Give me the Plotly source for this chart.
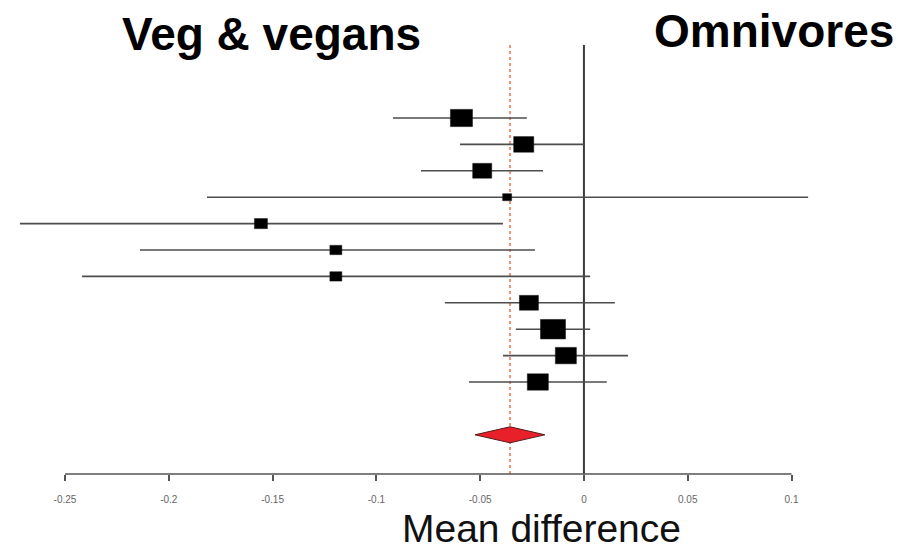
import plotly.graph_objects as go

# Study-level mean differences (veg & vegans minus omnivores) with 95% CIs
study_mean = [-0.059, -0.029, -0.049, -0.037, -0.1556, -0.1195, -0.1195,
              -0.0265, -0.0149, -0.0087, -0.0222]
ci_low = [-0.092, -0.0597, -0.0785, -0.1816, -0.2717, -0.2139, -0.2418,
          -0.067, -0.0328, -0.039, -0.0554]
ci_high = [-0.0275, 0.0, -0.0197, 0.108, -0.039, -0.0236, 0.003,
           0.0149, 0.003, 0.0212, 0.011]
weight_pct = [13.3, 11.0, 9.9, 2.2, 4.6, 3.9, 3.9, 9.9, 17.1, 12.1, 12.1]

# Pooled estimate
pooled_mean = -0.0356
pooled_low = -0.0525
pooled_high = -0.0188

tick_vals = [-0.25, -0.2, -0.15, -0.1, -0.05, 0, 0.05, 0.1]
tick_text = ["-0.25", "-0.2", "-0.15", "-0.1", "-0.05", "0", "0.05", "0.1"]

rows = list(range(1, len(study_mean) + 1))
pooled_row = len(study_mean) + 2

# axis geometry
W, H = 898, 550
m_l, m_r, m_t, m_b = 0, 0, 45, 76
x_range = [-0.2813, 0.1513]
y_range = [14.485, -1.765]
x_per_px = (x_range[1] - x_range[0]) / (W - m_l - m_r)
y_per_px = (y_range[0] - y_range[1]) / (H - m_t - m_b)

fig = go.Figure()

shapes = []
# confidence interval whiskers
for r, lo, hi in zip(rows, ci_low, ci_high):
    shapes.append(dict(type="line", xref="x", yref="y", x0=lo, x1=hi, y0=r, y1=r,
                       line=dict(color="#4d4d4d", width=1.6), layer="above"))

# vertical reference lines
shapes.append(dict(type="line", xref="x", yref="paper", x0=0, x1=0, y0=0, y1=1,
                   line=dict(color="#3a3a3a", width=2), layer="below"))
shapes.append(dict(type="line", xref="x", yref="paper", x0=pooled_mean, x1=pooled_mean,
                   y0=0, y1=1, line=dict(color="#e8704a", width=1.5, dash="dot"),
                   layer="below"))

# study boxes, side proportional to sqrt(weight)
for r, m, w in zip(rows, study_mean, weight_pct):
    side = 6.05 * w ** 0.5
    hw = side / 2 * x_per_px
    hh = side * 0.78 / 2 * y_per_px
    shapes.append(dict(type="rect", xref="x", yref="y", x0=m - hw, x1=m + hw,
                       y0=r - hh, y1=r + hh, fillcolor="#000000",
                       line=dict(color="#111111", width=0.5), layer="above"))

# bottom axis line spanning the labelled ticks only
shapes.append(dict(type="line", xref="x", yref="paper", x0=tick_vals[0], x1=tick_vals[-1],
                   y0=0, y1=0, line=dict(color="#555555", width=1.5)))

# pooled diamond
dh = 8 * y_per_px
fig.add_trace(go.Scatter(
    x=[pooled_low, pooled_mean, pooled_high, pooled_mean, pooled_low],
    y=[pooled_row, pooled_row - dh, pooled_row, pooled_row + dh, pooled_row],
    mode="lines", fill="toself", fillcolor="#e8202a",
    line=dict(color="#5a1a1a", width=1), hoverinfo="skip", showlegend=False))

fig.update_layout(
    width=W, height=H,
    margin=dict(l=m_l, r=m_r, t=m_t, b=m_b),
    paper_bgcolor="white", plot_bgcolor="white",
    shapes=shapes,
    showlegend=False,
    font=dict(family="Liberation Sans, Arial, sans-serif"),
    xaxis=dict(range=x_range, showgrid=False, zeroline=False, showline=False,
               tickmode="array", tickvals=tick_vals, ticktext=tick_text,
               ticks="outside", ticklen=6, tickwidth=1.5, tickcolor="#555555",
               tickfont=dict(size=10, color="#666666"), ticklabelstandoff=10,
               fixedrange=True),
    yaxis=dict(range=y_range, showgrid=False, zeroline=False, showline=False,
               showticklabels=False, ticks="", fixedrange=True),
    annotations=[
        dict(text="<b>Veg & vegans</b>", xref="paper", yref="paper",
             x=271 / W, y=1 + 11 / (H - m_t - m_b), showarrow=False,
             xanchor="center", yanchor="middle",
             font=dict(size=46, color="#000000")),
        dict(text="<b>Omnivores</b>", xref="paper", yref="paper",
             x=652 / W, y=1 + 14 / (H - m_t - m_b), showarrow=False,
             xanchor="left", yanchor="middle",
             font=dict(size=46, color="#000000")),
        dict(text="Mean difference", xref="paper", yref="paper",
             x=541 / W, y=-54 / (H - m_t - m_b), showarrow=False,
             xanchor="center", yanchor="middle",
             font=dict(size=39, color="#111111")),
    ],
)

fig.write_html("out.html")
